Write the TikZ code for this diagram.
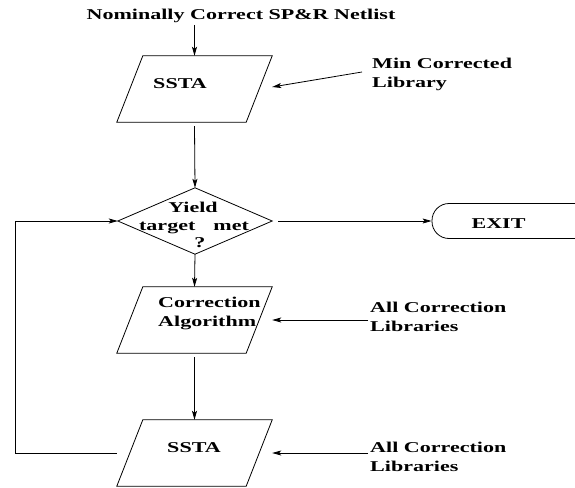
\documentclass[tikz,border=0pt]{standalone}
\usepackage{fontspec}
\setmainfont{Liberation Serif}[FakeStretch=1.47]
\usetikzlibrary{arrows.meta}

% two left-aligned lines, baseline on the first one
\newcommand\twolines[2]{\vtop{\hbox{#1}\hbox{#2}}}
% slanted process box drawn inside an invisible frame node
\newcommand\slantbox[1]{%
  \draw[ln] ([xshift=26pt]#1.north west) -- (#1.north east)
    -- ([xshift=-26pt]#1.south east) -- (#1.south west) -- cycle;}

\begin{document}
\begin{tikzpicture}[x=1pt, y=-1pt,
  font=\fontsize{15}{19}\selectfont\bfseries,
  lbl/.style={inner sep=0pt},
  frame/.style={inner sep=0pt, minimum width=155pt, minimum height=66pt},
  ln/.style={line width=0.8pt},
  arr/.style={draw, line width=0.8pt, -{Stealth[length=9pt,width=5pt,inset=2pt]}}]
\useasboundingbox (0,0) rectangle (575,487);

% input netlist and first timing analysis
\node[lbl, anchor=base] (title) at (241,20) {Nominally Correct SP\&R Netlist};
\coordinate (tstart) at (194.5,25);
\node[frame] (s1) at (194.5,89) {};
\slantbox{s1}
\node[lbl, anchor=base] (s1t) at (180,88) {SSTA};
\draw[arr] (tstart) -- (s1.north);

\node[lbl, anchor=base west] (minlib) at (372,68) {\twolines{Min Corrected}{Library}};
\coordinate (minstart) at (362,72);
\draw[arr] (minstart) -- ([yshift=2pt]s1.east);

% yield decision
\node[inner sep=0pt, minimum width=154pt, minimum height=66pt] (d) at (195,221) {};
\draw[ln] (d.north) -- (d.east) -- (d.south) -- (d.west) -- cycle;
\node[lbl, anchor=base] (dy) at (193,212) {Yield};
\node[lbl, anchor=base] (dt) at (194,230) {target\hspace{18pt}met};
\node[lbl, anchor=base] (dq) at (200,247) {?};
\draw[arr] ([yshift=-4pt]s1.south) -- (d.north);

% exit terminal
\node[draw, ln, inner sep=0pt, rounded corners=17pt, minimum width=178pt, minimum height=35pt] (exit) at (521,221) {};
\node[lbl, anchor=base] (exitt) at (498.5,228) {EXIT};
\draw[arr] ([xshift=6pt]d.east) -- (exit.west);

% correction step
\node[frame] (c) at (194.5,320) {};
\slantbox{c}
\node[lbl, anchor=base west] (ct) at (158,307) {\twolines{Correction}{Algorithm}};
\draw[arr] (d.south) -- (c.north);
\node[lbl, anchor=base west] (lib1) at (370,312) {\twolines{All Correction}{Libraries}};
\coordinate (lib1s) at (368,320);
\draw[arr] (lib1s) -- (c.east);

% second timing analysis and feedback loop
\node[frame] (s3) at (194.5,453) {};
\slantbox{s3}
\node[lbl, anchor=base] (s3t) at (194,452) {SSTA};
\draw[arr] ([yshift=-4pt]c.south) -- (s3.north);
\node[lbl, anchor=base west] (lib2) at (370,452) {\twolines{All Correction}{Libraries}};
\coordinate (lib2s) at (368,453);
\draw[arr] (lib2s) -- (s3.east);
\coordinate (loop) at (15,453);
\draw[arr] (s3.west) -- (loop) |- (d.west);
\end{tikzpicture}
\end{document}
